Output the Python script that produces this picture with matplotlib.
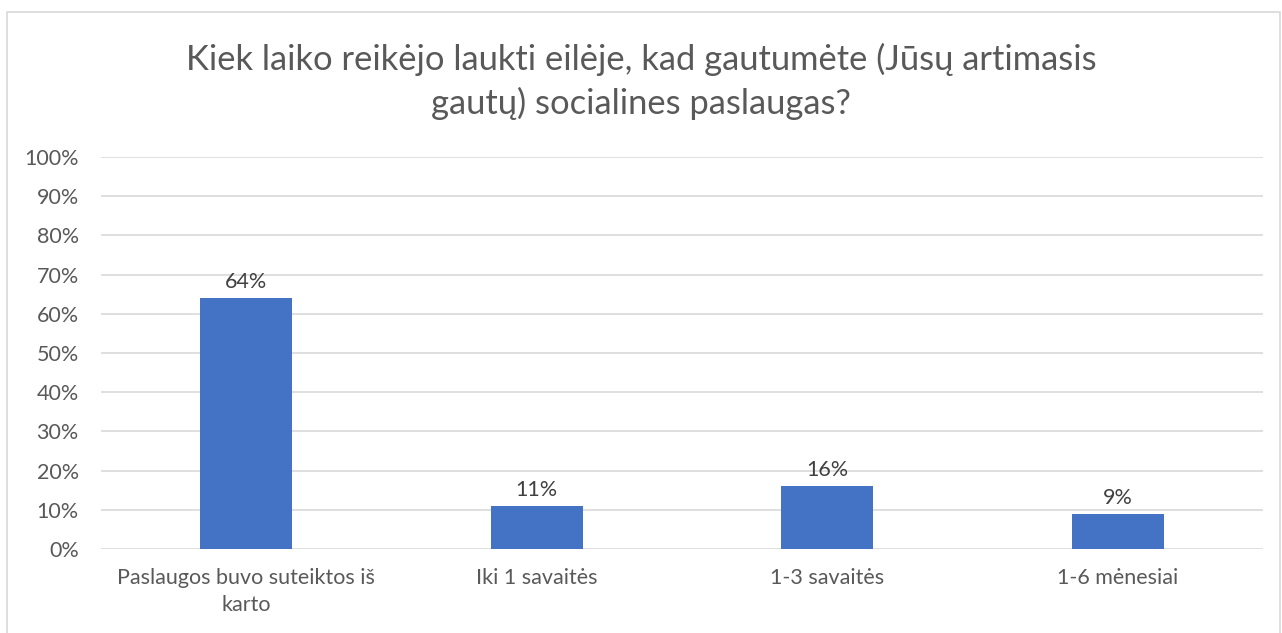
import matplotlib.pyplot as plt
from matplotlib.patches import Rectangle

# data
categories = ['Paslaugos buvo suteiktos iš\nkarto', 'Iki 1 savaitės', '1-3 savaitės', '1-6 mėnesiai']
values = [64, 11, 16, 9]
yticks = list(range(0, 101, 10))

plt.rcParams['font.family'] = ['Lato', 'DejaVu Sans']
text_col = '#595959'

fig = plt.figure(figsize=(12.82, 6.33), dpi=100)
ax = fig.add_axes([101/1282, 1 - 549/633, (1263 - 101)/1282, (549 - 157)/633])

# light grey frame round the whole chart
fig.patches.append(Rectangle((7/1282, -0.05), (1280 - 7)/1282, 1 - 12/633 + 0.05,
                             transform=fig.transFigure, fill=False,
                             edgecolor='#d9d9d9', linewidth=1.2))

x = range(len(categories))
bars = ax.bar(x, values, width=0.315, color='#4472C4', zorder=3)
for b, v in zip(bars, values):
    ax.text(b.get_x() + b.get_width()/2, v + 1.5, '%d%%' % v,
            ha='center', va='bottom', fontsize=15.5, color='#404040')

ax.set_xlim(-0.5, len(categories) - 0.5)
ax.set_ylim(0, 100)
ax.set_yticks(yticks)
ax.set_yticklabels(['%d%%' % t for t in yticks], fontsize=15.5, color=text_col)
ax.set_xticks(list(x))
ax.set_xticklabels(categories, fontsize=15.5, color=text_col, linespacing=1.4)
ax.tick_params(axis='x', length=0, pad=14)
ax.tick_params(axis='y', length=0, pad=16)
ax.grid(axis='y', color='#d9d9d9', linewidth=1.2, zorder=0)
for s in ax.spines.values():
    s.set_visible(False)

fig.text(0.5, 1 - 81/633, 'Kiek laiko reikėjo laukti eilėje, kad gautumėte (Jūsų artimasis\ngautų) socialines paslaugas?',
         ha='center', va='center', fontsize=24.8, color=text_col, linespacing=1.4)

fig.savefig('out.png', dpi=100)
